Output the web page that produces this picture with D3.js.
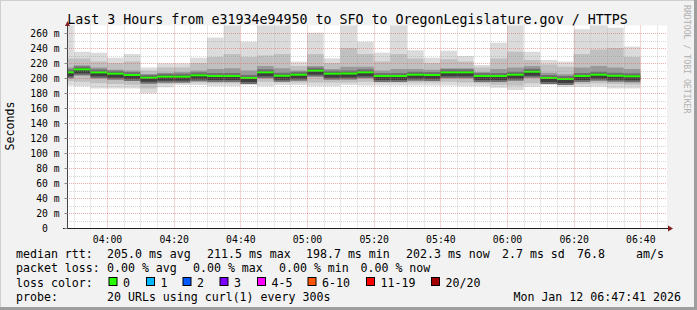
<!DOCTYPE html>
<html><head><meta charset="utf-8">
<script src="https://cdn.jsdelivr.net/npm/d3@7"></script>
<style>
html,body{margin:0;padding:0;background:#f2f2f2;}
svg{display:block;}
text{font-family:"DejaVu Sans Mono",monospace;fill:#000;white-space:pre;}
</style></head><body>
<svg id="c" width="697" height="310"></svg>
<script>
// ---- data (ms) ----
const endTimes = ["03:50","03:55","04:00","04:05","04:10","04:15","04:20","04:25","04:30","04:35",
  "04:40","04:45","04:50","04:55","05:00","05:05","05:10","05:15","05:20","05:25",
  "05:30","05:35","05:40","05:45","05:50","05:55","06:00","06:05","06:10","06:15",
  "06:20","06:25","06:30","06:35","06:40"];
const maxRtt  = [275,235,233.7,227,232,214,219.5,219.5,227,253.8,275,248.4,275,275,221.8,260.4,226.2,275,248.4,233.8,275,237,227,236.4,229.3,217.3,247,275,235,224,221.8,265,275,267,241.8];
const p90Rtt  = [226,226,222,220,222,210,214,214,220,228,232,228,230,232,216,232,220,240,232,222,232,226,220,225,222,214,226,235,224,218,215,232,238,240,228];
const q3Rtt   = [214,217,214,211,210,205,207,208,210,212,213,210,216,213,210,216,212,215,215,210,212,212,211,213,213,208,212,214,216,207,205,214,216,214,212];
const medianRtt=[207.6,211.5,207.5,205.8,204,200.4,201.8,201.8,203.6,202.7,202.7,200,207.6,203,204.4,209.8,205.8,206,207.6,202.7,202.7,204.4,204,207.6,207.6,202.7,202.7,204.4,208.4,200,198.7,202.7,204.4,203,202.3];
const q1Rtt   = [202,205,202,200,198,194,197,197,199,198,198,196,202,198,199,203,200,200,201,198,198,199,199,201,201,198,197,198,202,196,194,198,199,198,197];
const p10Rtt  = [196,195,193,192,191,186,192,193,194,193,193,193,195,194,194,194,194,194,195,194,194,194,194,195,194,193,191,190,193,193,191,192,193,192,191];
const minRtt  = [190,189,186,186,186,179.5,187.6,190.7,190.7,189,189,190.7,189,190.7,190.7,189,189,190.7,190,190,190,190,190,190,189,189,187,184,188.4,190.7,188,188,188.5,186,186];
const yTicks = [0,20,40,60,80,100,120,140,160,180,200,220,240,260];
const lossLabels = ["0","1","2","3","4-5","6-10","11-19","20/20"];
const lossColors = ["#26ff00","#00b8ff","#0059ff","#7e00ff","#ff00ff","#ff5500","#ff0000","#a10000"];
const rttStats = ["205.0 ms avg","211.5 ms max","198.7 ms min","202.3 ms now","2.7 ms sd","76.8","am/s"];
const lossStats = ["0.00 % avg","0.00 % max","0.00 % min","0.00 % now"];
const titleText = "Last 3 Hours from e31934e94950 to SFO to OregonLegislature.gov / HTTPS";
const probeText = "20 URLs using curl(1) every 300s";
const stampText = "Mon Jan 12 06:47:41 2026";

// ---- setup ----
const svg = d3.select("#c");
const W = 697, H = 310;
const parse = s => d3.utcParse("%Y-%m-%d %H:%M")("2026-01-12 " + s);
const t0 = parse("03:48"), t1 = parse("06:48");
const L = 67, R = 667, B = 228, T = 25.5;
const x = d3.scaleUtc().domain([t0, t1]).range([L, R]);
const y = d3.scaleLinear().domain([0, 270]).range([B, T]);

// background & border
svg.append("rect").attr("width",W).attr("height",H).attr("fill","#f2f2f2");
svg.append("rect").attr("x",0).attr("y",0).attr("width",W).attr("height",1).attr("fill","#cfcfcf");
svg.append("rect").attr("x",0).attr("y",0).attr("width",1).attr("height",H).attr("fill","#cfcfcf");
svg.append("rect").attr("x",W-3).attr("y",0).attr("width",3).attr("height",H).attr("fill","#9e9e9e");
svg.append("rect").attr("x",0).attr("y",H-3).attr("width",W).attr("height",3).attr("fill","#9e9e9e");

// canvas
svg.append("rect").attr("x",L).attr("y",T).attr("width",R-L).attr("height",B-T).attr("fill","#fff");

svg.append("clipPath").attr("id","plot").append("rect")
  .attr("x",L).attr("y",T).attr("width",R-L).attr("height",B-T);

// smoke
const g = svg.append("g").attr("clip-path","url(#plot)");
const cols = endTimes.map((s,i)=>({end:parse(s), i}));
const bands = [
  [minRtt, maxRtt, "#dbdbdb"],
  [p10Rtt, p90Rtt, "#c0c0c0"],
  [q1Rtt, q3Rtt, "#999999"]
];
const cx0 = d=>x(d3.utcMinute.offset(d.end,-5));
const cw = d=>x(d.end)-cx0(d);
bands.forEach(([lo,hi,col])=>{
  g.selectAll(null).data(cols).enter().append("rect")
    .attr("x", cx0).attr("width", cw)
    .attr("y", d=>y(hi[d.i]))
    .attr("height", d=>y(lo[d.i])-y(hi[d.i]))
    .attr("fill", col);
});
// darker core around median
g.selectAll(null).data(cols).enter().append("rect")
  .attr("x", cx0).attr("width", cw)
  .attr("y", d=>y(medianRtt[d.i])-3)
  .attr("height", 9)
  .attr("fill", "#707070");
g.selectAll(null).data(cols).enter().append("rect")
  .attr("x", cx0).attr("width", cw)
  .attr("y", d=>y(medianRtt[d.i])-1)
  .attr("height", 5)
  .attr("fill", "#3e3e3e");

// grid
const gg = svg.append("g");
d3.range(10, 270, 10).forEach(v=>{
  const major = v % 20 === 0;
  gg.append("line").attr("x1",L).attr("x2",R)
    .attr("y1",Math.round(y(v))+0.5).attr("y2",Math.round(y(v))+0.5)
    .attr("stroke", major ? "rgba(222,90,90,0.5)" : "rgba(150,150,150,0.4)")
    .attr("stroke-dasharray","1,1");
});
const minorT = d3.utcMinute.every(5).range(t0, t1);
minorT.forEach(t=>{
  if (+t === +t0) return;
  const major = t.getUTCMinutes() % 20 === 0;
  gg.append("line").attr("y1",T).attr("y2",B)
    .attr("x1",Math.round(x(t))+0.5).attr("x2",Math.round(x(t))+0.5)
    .attr("stroke", major ? "rgba(222,90,90,0.5)" : "rgba(150,150,150,0.4)")
    .attr("stroke-dasharray","1,1");
});

// median line
g.selectAll(null).data(cols).enter().append("rect")
  .attr("x", cx0).attr("width", cw)
  .attr("y", d=>y(medianRtt[d.i])-1)
  .attr("height", 2)
  .attr("fill", lossColors[0]);

// axes
svg.append("line").attr("x1",L+0.5).attr("x2",L+0.5).attr("y1",B).attr("y2",T-3)
  .attr("stroke","#444");
svg.append("line").attr("x1",L-4).attr("x2",R+1).attr("y1",B+0.5).attr("y2",B+0.5)
  .attr("stroke","#1f1f1f");
svg.append("path").attr("d",`M${L-2},${T+0.5} L${L+3},${T+0.5} L${L+0.5},${T-4.5} Z`).attr("fill","#801f1f");
svg.append("path").attr("d",`M${R+1},${B-2.5} L${R+1},${B+3.5} L${R+6},${B+0.5} Z`).attr("fill","#801f1f");

// y axis labels
const yAxis = d3.axisLeft(y).tickValues(yTicks).tickSize(3).tickPadding(5)
  .tickFormat(v => v === 0 ? "0  " : v + " m");
const ya = svg.append("g").attr("transform",`translate(${L+0.5},0)`).call(yAxis);
ya.select(".domain").remove();
ya.selectAll("line").attr("stroke","#888");
ya.selectAll("text").attr("font-family","DejaVu Sans Mono").attr("font-size","9.7px").attr("fill","#000").attr("dy","0.34em").attr("x",-8);

// x axis labels
const xAxis = d3.axisBottom(x).ticks(d3.utcMinute.every(20)).tickSize(0).tickPadding(8)
  .tickFormat(d3.utcFormat("%H:%M"));
const xa = svg.append("g").attr("transform",`translate(0,${B})`).call(xAxis);
xa.select(".domain").remove();
xa.selectAll("text").attr("font-family","DejaVu Sans Mono").attr("font-size","9.8px").attr("fill","#000").attr("dy","0.71em");

// title
svg.append("text").attr("x",347.5).attr("y",24).attr("text-anchor","middle")
  .attr("font-size","13.3px").text(titleText);

// y label
svg.append("text").attr("transform","translate(14,126) rotate(-90)").attr("text-anchor","middle")
  .attr("font-size","11.6px").text("Seconds");

// watermark
svg.append("text").attr("transform","translate(684,5) rotate(90)")
  .attr("font-size","8.2px").style("fill","#b0b0b0").text("RRDTOOL / TOBI OETIKER");

// legend
const fs = "11.6px";
const row = [258.3, 272.4, 286.5, 300.6];
const leg = svg.append("g").attr("font-size",fs);
leg.append("text").attr("x",16).attr("y",row[0]).text("median rtt:");
const rttX = [107, 207, 306, 406, 502, 577, 636];
rttStats.forEach((s,i)=>leg.append("text").attr("x",rttX[i]).attr("y",row[0]).text(s));
leg.append("text").attr("x",16).attr("y",row[1]).text("packet loss:");
const lossX = [107, 193, 279, 360.5];
lossStats.forEach((s,i)=>leg.append("text").attr("x",lossX[i]).attr("y",row[1]).text(s));
leg.append("text").attr("x",16).attr("y",row[2]).text("loss color:");
const swX = [108.5, 146, 182.5, 219.5, 257, 307.5, 366, 431];
lossLabels.forEach((s,i)=>{
  leg.append("rect").attr("x",swX[i]+0.5).attr("y",277.5).attr("width",8).attr("height",8)
    .attr("fill",lossColors[i]).attr("stroke","#000").attr("stroke-width",1);
  leg.append("text").attr("x",swX[i]+14.5).attr("y",row[2]).text(s);
});
leg.append("text").attr("x",16).attr("y",row[3]).text("probe:");
leg.append("text").attr("x",107).attr("y",row[3]).text(probeText);
leg.append("text").attr("x",681).attr("y",row[3]).attr("text-anchor","end").text(stampText);
</script>
</body></html>
